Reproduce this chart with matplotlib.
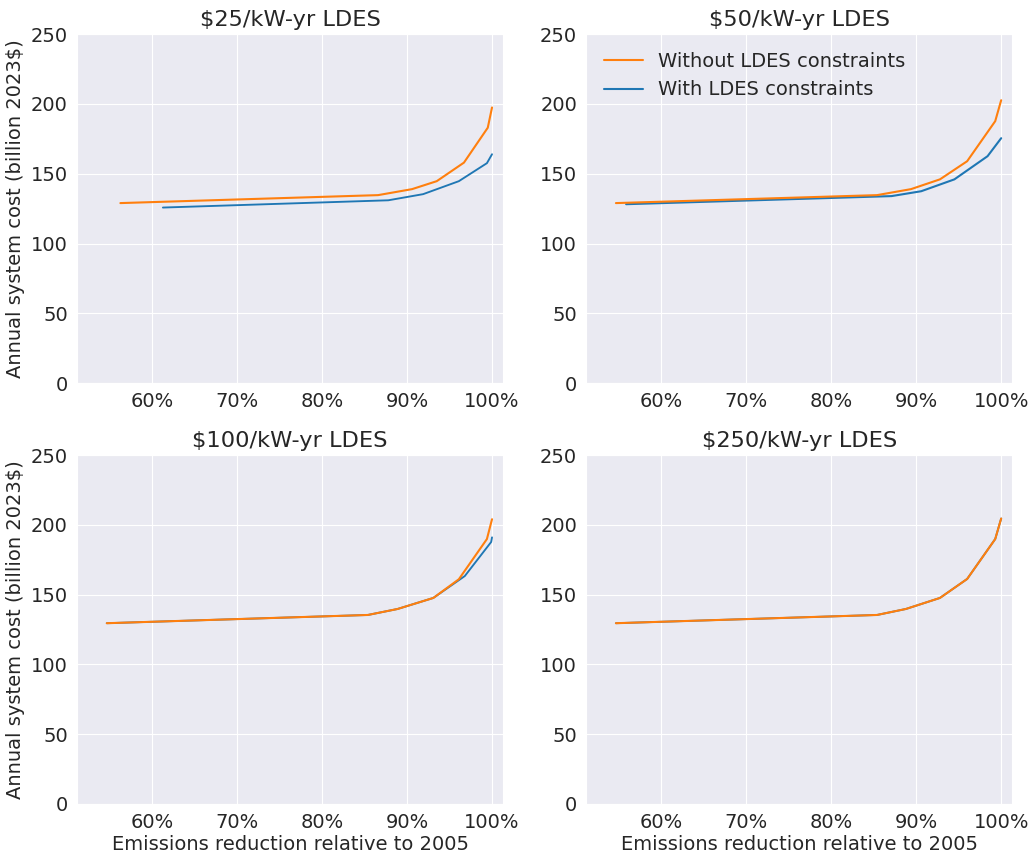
import matplotlib as mpl
mpl.use('Agg')
import matplotlib.pyplot as plt
import seaborn as sns
from matplotlib.ticker import PercentFormatter

# emissions reduction (%) and annual system cost (billion 2023$)
titles = ["$25/kW-yr LDES", "$50/kW-yr LDES", "$100/kW-yr LDES", "$250/kW-yr LDES"]

x_wo_25 = [56.3, 86.6, 90.6, 93.5, 96.7, 99.5, 100.0]
y_wo_25 = [129.0, 134.7, 139.0, 144.7, 158.0, 183.0, 197.5]
x_w_25 = [61.3, 87.8, 91.9, 96.1, 99.4, 100.0]
y_w_25 = [125.8, 131.0, 135.4, 144.7, 157.6, 164.0]

x_wo_50 = [54.7, 85.4, 89.4, 92.8, 96.0, 99.3, 100.0]
y_wo_50 = [129.0, 134.7, 139.0, 146.0, 159.0, 187.7, 202.7]
x_w_50 = [55.9, 87.1, 90.6, 94.5, 98.4, 100.0]
y_w_50 = [128.2, 134.0, 137.5, 146.0, 162.6, 175.5]

x_wo_100 = [54.7, 85.4, 88.9, 93.1, 96.1, 99.4, 100.0]
y_wo_100 = [129.5, 135.4, 139.7, 147.6, 161.0, 189.8, 204.0]
x_w_100 = [54.7, 85.4, 88.9, 93.1, 96.8, 99.9, 100.0]
y_w_100 = [129.5, 135.4, 139.7, 147.6, 163.3, 187.7, 191.0]

x_wo_250 = [54.7, 85.4, 88.8, 92.8, 96.0, 99.3, 100.0]
y_wo_250 = [129.5, 135.4, 139.7, 147.6, 161.2, 189.8, 204.5]
x_w_250 = x_wo_250
y_w_250 = y_wo_250

series = [
    (x_wo_25, y_wo_25, x_w_25, y_w_25),
    (x_wo_50, y_wo_50, x_w_50, y_w_50),
    (x_wo_100, y_wo_100, x_w_100, y_w_100),
    (x_wo_250, y_wo_250, x_w_250, y_w_250),
]

sns.set_style('darkgrid')
plt.rcParams.update({'font.family': ['DejaVu Sans'], 'font.size': 14,
                     'xtick.labelsize': 14, 'ytick.labelsize': 14,
                     'axes.labelsize': 14, 'axes.titlesize': 16.2})

fig, axes = plt.subplots(2, 2, figsize=(10.35, 8.55), dpi=100)
fig.subplots_adjust(left=0.0744, right=0.978, bottom=0.0597, top=0.960,
                    wspace=0.195, hspace=0.206)

for i, ax in enumerate(axes.flat):
    xo, yo, xw, yw = series[i]
    # blue a touch thinner underneath so overlapping stretches look orange
    ax.plot(xw, yw, color='#1f77b4', lw=1.35, label='With LDES constraints')
    ax.plot(xo, yo, color='#ff7f0e', lw=1.5, label='Without LDES constraints')
    ax.set_title(titles[i])
    ax.set_xlim(51.2, 101.3)
    ax.set_ylim(0, 250)
    ax.set_xticks([60, 70, 80, 90, 100])
    ax.set_yticks([0, 50, 100, 150, 200, 250])
    ax.xaxis.set_major_formatter(PercentFormatter(decimals=0))
    ax.tick_params(colors='#262626', pad=3)
    if i % 2 == 0:
        ax.set_ylabel("Annual system cost (billion 2023$)")
    if i >= 2:
        ax.set_xlabel("Emissions reduction relative to 2005", labelpad=2)

h, l = axes[0, 1].get_legend_handles_labels()
for hd in h:
    hd.set_linewidth(1.5)
axes[0, 1].legend(h[::-1], l[::-1], loc='upper left', frameon=False, fontsize=14)

plt.savefig("out.png", dpi=100)
